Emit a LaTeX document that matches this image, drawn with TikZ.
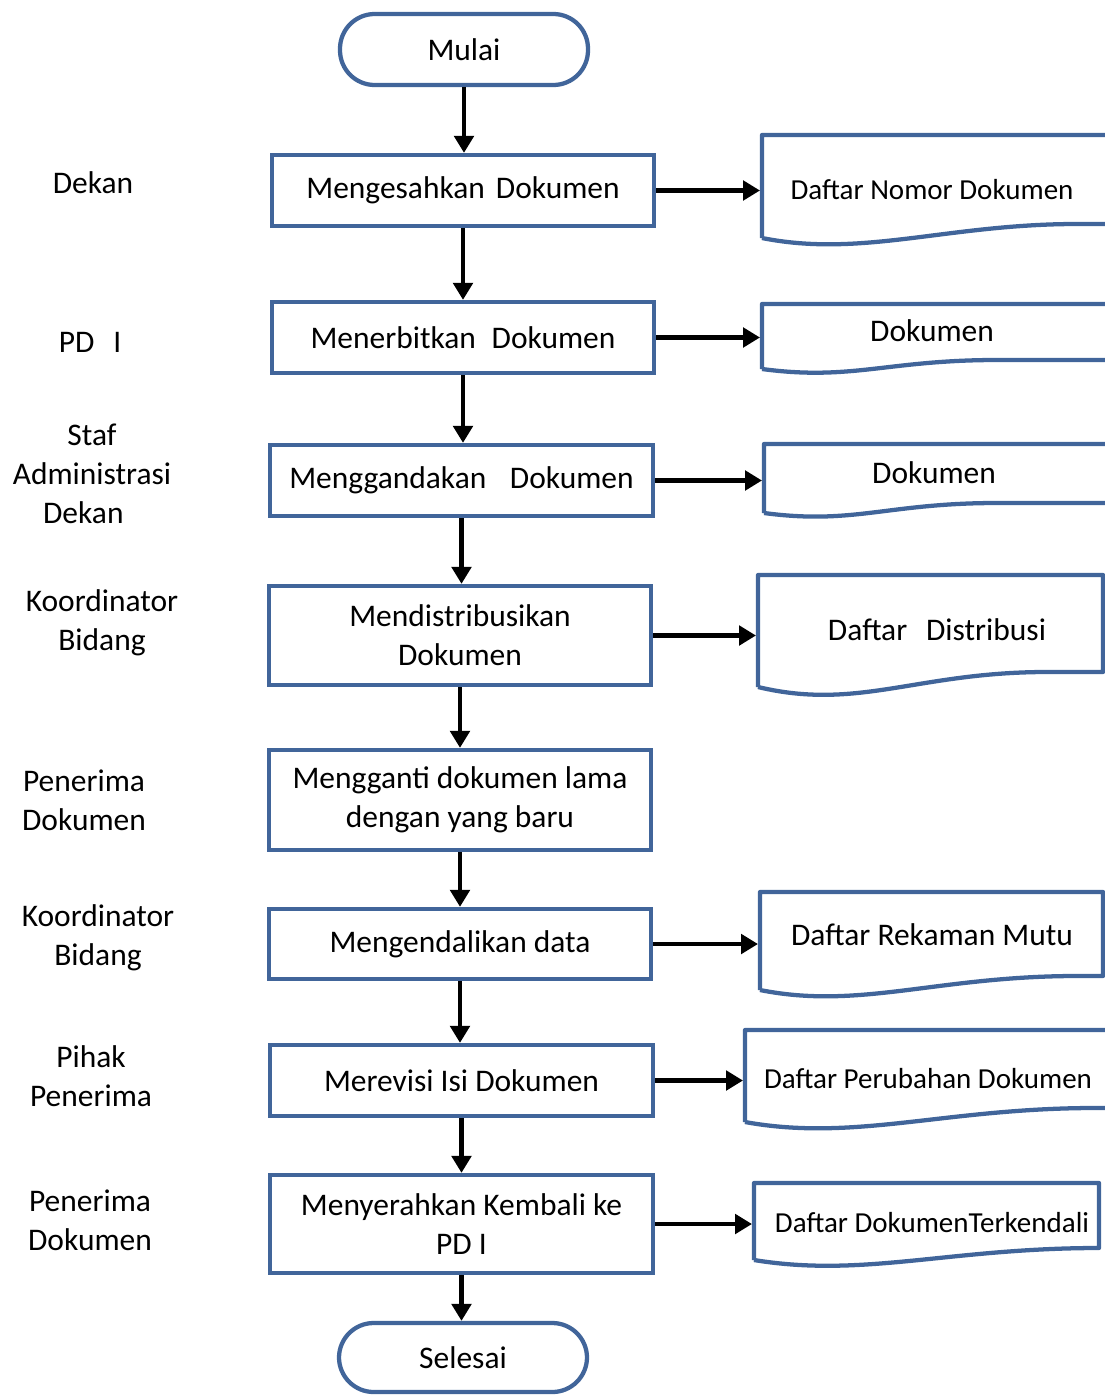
\documentclass[tikz,border=0pt]{standalone}
\usepackage{fontspec}
\setmainfont{Carlito}
\usetikzlibrary{arrows.meta}
\definecolor{bord}{HTML}{41659A}
\begin{document}
\begin{tikzpicture}[x=0.75pt,y=-0.75pt,
  mainfont/.style={font=\fontsize{23.6}{29.25}\selectfont},
  smallfont/.style={font=\fontsize{21.75}{27}\selectfont},
  proc/.style={draw=bord, line width=3.2pt, rectangle, align=center, inner sep=2pt, mainfont},
  dims/.style 2 args={minimum width={#1*0.75pt}, minimum height={#2*0.75pt}},
  term/.style={proc, rounded corners=26pt},
  docline/.style={draw=bord, line width=3.2pt, line join=round},
  arr/.style={line width=3.2pt, -{Triangle[length=12.75pt,width=14.5pt]}},
  lab/.style={align=center, mainfont, inner sep=0pt},
  dtext/.style={align=center, inner sep=0pt}]
\useasboundingbox (0,0) rectangle (1105,1396);
\clip (0,0) rectangle (1105,1396);

% terminals and process boxes
\node[term, dims={248}{71}] (start) at (464,49.5) {Mulai};
\node[proc, dims={382}{71}] (b1) at (463,190.5) {Mengesahkan\hspace{0.35em}Dokumen};
\node[proc, dims={382}{71}] (b2) at (463,337.5) {Menerbitkan\hspace{0.5em}Dokumen};
\node[proc, dims={383}{71}] (b3) at (461.5,480.5) {Menggandakan\hspace{0.75em}Dokumen};
\node[proc, dims={382}{99}] (b4) at (460,635.5) {Mendistribusikan\\Dokumen};
\node[proc, dims={382}{100}] (b5) at (460,800) {Mengganti dokumen lama\\dengan yang baru};
\node[proc, dims={382}{70}] (b6) at (460,944) {Mengendalikan data};
\node[proc, dims={383}{71}] (b7) at (461.5,1080.5) {Merevisi Isi Dokumen};
\node[proc, dims={383}{98}] (b8) at (461.5,1224) {Menyerahkan Kembali ke\\PD I};
\node[term, dims={248}{69}] (stop) at (463,1357.5) {Selesai};

% lane labels
\node[lab] (l1) at (93,183) {Dekan};
\node[lab] (l2) at (90,342) {PD\hspace{0.6em}I};
\node[lab] (l3) at (92,474) {Staf\\Administrasi\\Dekan\kern13pt};
\node[lab] (l4) at (102,623) {Koordinator\\Bidang};
\node[lab] (l5) at (84,800) {Penerima\\Dokumen};
\node[lab] (l6) at (98,938) {Koordinator\\Bidang};
\node[lab] (l7) at (91,1076) {Pihak\\Penerima};
\node[lab] (l8) at (90,1220) {Penerima\\Dokumen};

% document shapes
\draw[docline] (762,238) -- (762,135) -- (1115,135) -- (1115,224) -- (1077,224)
  .. controls +(-130,0) and +(100,20) .. (762,238);
\draw[docline] (762,369) -- (762,304) -- (1115,304) -- (1115,360) -- (997,360)
  .. controls +(-110,0) and +(90,12) .. (762,369);
\draw[docline] (764,513) -- (764,444) -- (1115,444) -- (1115,503) -- (997,503)
  .. controls +(-110,0) and +(90,12) .. (764,513);
\draw[docline] (758,687) -- (758,575) -- (1103,575) -- (1103,672) -- (1047,672)
  .. controls +(-130,0) and +(100,24) .. (758,687);
\draw[docline] (760,990) -- (760,892) -- (1103,892) -- (1103,976) -- (1077,976)
  .. controls +(-140,0) and +(100,20) .. (760,990);
\draw[docline] (745,1122) -- (745,1030) -- (1115,1030) -- (1115,1108) -- (1095,1108)
  .. controls +(-150,0) and +(110,20) .. (745,1122);
\draw[docline] (754,1260) -- (754,1183) -- (1099,1183) -- (1099,1248)
  .. controls +(-150,0) and +(110,18) .. (754,1260);

\node[dtext, smallfont] (d1) at (932,190) {Daftar Nomor Dokumen};
\node[dtext, mainfont] (d2) at (932,331) {Dokumen};
\node[dtext, mainfont] (d3) at (934,473) {Dokumen};
\node[dtext, mainfont] (d4) at (937,630) {Daftar\hspace{0.6em}Distribusi};
\node[dtext, mainfont] (d5) at (932,935) {Daftar Rekaman Mutu};
\node[dtext, smallfont] (d6) at (928,1079) {Daftar Perubahan Dokumen};
\node[dtext, smallfont] (d7) at (932,1223) {Daftar DokumenTerkendali};

\coordinate (d1in) at (760,190);
\coordinate (d2in) at (760,338);
\coordinate (d3in) at (762,480);
\coordinate (d4in) at (756,635);
\coordinate (d5in) at (758,942);
\coordinate (d6in) at (743,1079);
\coordinate (d7in) at (752,1223);

% vertical flow
\draw[arr] (start.south) -- (start.south |- b1.north);
\draw[arr] (b1.south) -- (b1.south |- b2.north);
\draw[arr] (b2.south) -- (b2.south |- b3.north);
\draw[arr] (b3.south) -- (b3.south |- b4.north);
\draw[arr] (b4.south) -- (b4.south |- b5.north);
\draw[arr] (b5.south) -- (b5.south |- b6.north);
\draw[arr] (b6.south) -- (b6.south |- b7.north);
\draw[arr] (b7.south) -- (b7.south |- b8.north);
\draw[arr] (b8.south) -- (b8.south |- stop.north);

% to documents
\draw[arr] (b1.east) -- (b1.east -| d1in);
\draw[arr] (b2.east) -- (b2.east -| d2in);
\draw[arr] (b3.east) -- (b3.east -| d3in);
\draw[arr] (b4.east) -- (b4.east -| d4in);
\draw[arr] (b6.east) -- (b6.east -| d5in);
\draw[arr] (b7.east) -- (b7.east -| d6in);
\draw[arr] (b8.east) -- (b8.east -| d7in);
\end{tikzpicture}
\end{document}
